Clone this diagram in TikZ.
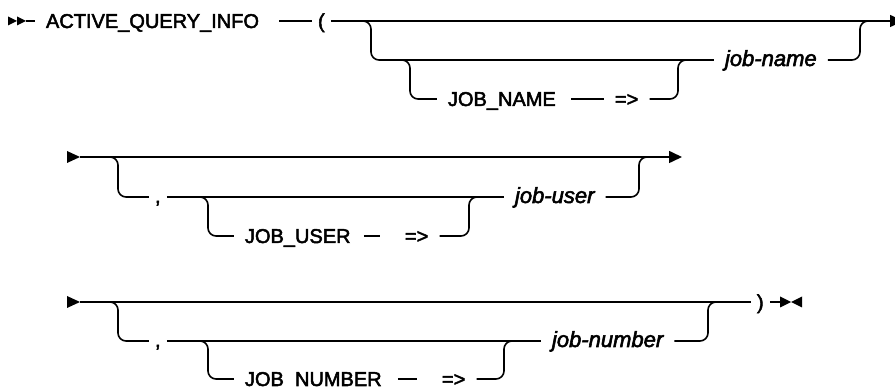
\documentclass[tikz,border=0pt]{standalone}
\usepackage{fontspec}
\setmainfont{Liberation Sans}[FakeBold=2.5]
\usetikzlibrary{arrows.meta,positioning}

\tikzset{
  rail/.style={line width=1.6pt, rounded corners=8pt},
  kw/.style={anchor=text, inner xsep=11pt, inner ysep=0pt,
             text height=14pt, text depth=0pt,
             font=\fontsize{20}{22}\selectfont},
  parm/.style={kw, text height=12pt,
               font=\fontsize{22}{24}\selectfont\itshape},
  punct/.style={kw, inner xsep=6pt},
  endtip/.style={-{Triangle[length=13pt,width=12pt]}},
}

\begin{document}
\begin{tikzpicture}[x=1pt,y=-1pt]
  \useasboundingbox (0,0) rectangle (895,387);

  % linha 1: ACTIVE_QUERY_INFO ( [JOB_NAME =>] job-name
  \fill (8,16.5) -- (17,21) -- (8,25.5) -- cycle;
  \fill (17,16.5) -- (26,21) -- (17,25.5) -- cycle;
  \coordinate (s1) at (26,21);
  \node[kw] (aqi) at (46,28) {ACTIVE\_QUERY\_INFO};
  \node[punct] (lp) at (318,28) {(};
  \node[kw] (jnk) at (448,106) {JOB\_NAME};
  \node[kw] (arw1) at (615,106) {=>};
  \node[parm] (jname) at (725,66) {job-name};
  \coordinate (e1) at (903,21);
  \coordinate (b1) at (352,21);
  \coordinate (b2) at (398,60);

  \draw[rail] (s1) -- (aqi.west);
  \draw[rail,shorten <=9pt] (aqi.east) -- (lp.west);
  \draw[rail,endtip] (lp.east) -- (e1);
  \draw[rail] (b1) -| (371,60) -- (jname.west);
  \draw[rail] (b2) -| (410,99) -- (jnk.west);
  \draw[rail,shorten <=4pt] (jnk.east) -- (arw1.west);
  \draw[rail] (arw1.east) -| (678,60) -- (688,60);
  \draw[rail] (jname.east) -| (860,21) -- (870,21);

  % linha 2: [, [JOB_USER =>] job-user]
  \fill (67,151) -- (80,157) -- (67,163) -- cycle;
  \coordinate (s2) at (80,157);
  \coordinate (e2) at (682,157);
  \coordinate (b3) at (102,157);
  \coordinate (b4) at (196,197);
  \node[punct,text height=12pt] (cm1) at (155,203) {,};
  \node[kw] (juk) at (245,243) {JOB\_USER};
  \node[kw] (arw2) at (405,243) {=>};
  \node[parm] (juser) at (515,203) {job-user};

  \draw[rail,endtip] (s2) -- (e2);
  \draw[rail] (b3) -| (118,197) -- (cm1.west);
  \draw[rail] (cm1.east) -- (juser.west);
  \draw[rail] (b4) -| (208,236) -- (juk.west);
  \draw[rail,shorten <=2pt,shorten >=14pt] (juk.east) -- (arw2.west);
  \draw[rail] (arw2.east) -| (469,197) -- (478,197);
  \draw[rail] (juser.east) -| (639,157) -- (650,157);

  % linha 3: [, [JOB_NUMBER =>] job-number] )
  \fill (67,296) -- (80,302) -- (67,308) -- cycle;
  \coordinate (s3) at (80,302);
  \coordinate (b5) at (102,302);
  \coordinate (b6) at (196,341);
  \node[punct,text height=12pt] (cm2) at (155,347) {,};
  \node[kw] (jnuk) at (245,386) {JOB\_NUMBER};
  \node[kw] (arw3) at (442,386) {=>};
  \node[parm] (jnum) at (552,347) {job-number};
  \node[punct] (rp) at (757,309) {)};
  \coordinate (e3) at (786,302);

  \draw[rail] (s3) -- (rp.west);
  \draw[rail] (b5) -| (118,341) -- (cm2.west);
  \draw[rail] (cm2.east) -- (jnum.west);
  \draw[rail] (b6) -| (208,379) -- (jnuk.west);
  \draw[rail,shorten <=5pt,shorten >=14pt] (jnuk.east) -- (arw3.west);
  \draw[rail] (arw3.east) -| (504,341) -- (514,341);
  \draw[rail] (jnum.east) -| (708,302) -- (718,302);
  \draw[rail] (rp.east) -- (e3);
  \fill (780,296.5) -- (791,302) -- (780,307.5) -- cycle;
  \fill (802,296.5) -- (791,302) -- (802,307.5) -- cycle;
\end{tikzpicture}
\end{document}
